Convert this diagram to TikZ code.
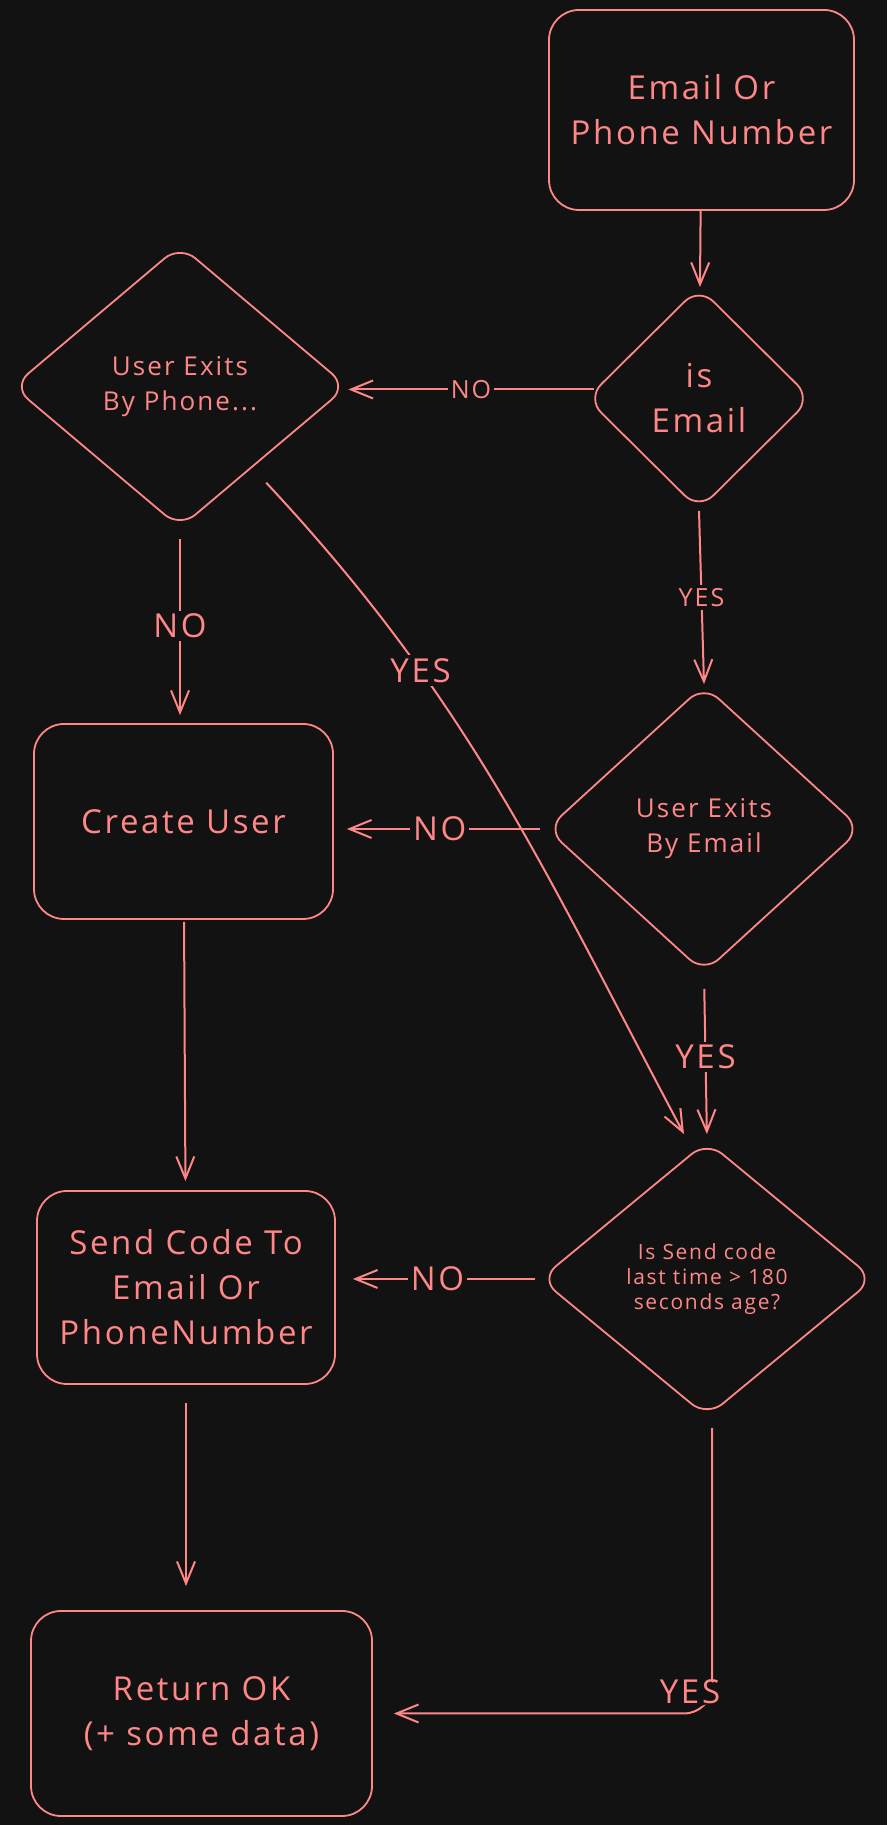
\documentclass[tikz,border=0pt]{standalone}
\usepackage{fontspec}
\setmainfont[LetterSpace=8]{Open Sans}
\usetikzlibrary{shapes.geometric,arrows.meta,calc}
\definecolor{bgdark}{HTML}{121212}
\definecolor{pen}{HTML}{FF8787}
\tikzset {>={Straight Barb[length=22pt,width=18pt]}}
\newcommand\bigtext{\fontsize{33}{45}\selectfont}
\newcommand\midtext{\fontsize{26}{35}\selectfont}
\newcommand\smalltext{\fontsize{21}{25}\selectfont}
\newcommand\labeltext{\fontsize{25}{30}\selectfont}
\tikzset{
  stepbox/.style={draw=pen,line width=1.8pt,rounded corners=30pt,inner sep=0pt,align=center,text=pen},
  decision/.style={diamond,draw=pen,line width=1.8pt,rounded corners=20pt,inner sep=0pt,align=center,text=pen},
  flow/.style={->,draw=pen,line width=2pt},
  lbl/.style={fill=bgdark,text=pen,inner sep=3pt,font=\labeltext},
  biglbl/.style={lbl,font=\bigtext}
}

\begin{document}
\begin{tikzpicture}[x=1pt,y=1pt]
\fill[bgdark] (0,0) rectangle (887,1825);
\useasboundingbox (0,0) rectangle (887,1825);

% boxes
\node[stepbox,minimum width=305pt,minimum height=200pt,font=\bigtext] (input) at (701.5,1715) {Email Or\\Phone Number};
\node[stepbox,minimum width=299pt,minimum height=195pt,font=\bigtext] (create) at (183.5,1003.5) {Create User};
\node[stepbox,minimum width=298pt,minimum height=193pt,font=\bigtext] (sendcode) at (186,537.5) {Send Code To\\Email Or\\PhoneNumber};
\node[stepbox,minimum width=341pt,minimum height=205pt,font=\bigtext] (return) at (201.5,111.5) {Return OK\\(+ some data)};

% decisions
\node[decision,minimum width=225pt,minimum height=223pt,font=\bigtext] (isEmail) at (699,1426.5) {is\\Email};
\node[decision,minimum width=335pt,minimum height=283pt,font=\midtext] (phone) at (180,1438.5) {User Exits\\By Phone...};
\node[decision,minimum width=315pt,minimum height=288pt,font=\midtext] (email) at (704,996) {User Exits\\By Email};
\node[decision,minimum width=334pt,minimum height=276pt,font=\smalltext] (send) at (707,546) {Is Send code\\last time > 180\\seconds age?};

% connectors
\draw[flow] (input) -- (isEmail);
\draw[flow] ($(isEmail.west)+(8,9)$) -- node[lbl]{NO} ($(phone.east |- isEmail.west)+(0,9)$);
\draw[flow] (isEmail.south) -- node[lbl]{YES} (email.north);
\draw[flow,shorten <=10pt,shorten >=8pt] (phone.south) -- node[biglbl]{NO} (phone.south |- create.north);
\draw[flow] ($(phone.south east)+(2,-25)$) to[out=-47,in=118] node[pos=0.3,biglbl]{YES} ($(send.north)+(-23,6)$);
\draw[flow,shorten <=6pt,shorten >=13pt] (email.west) -- node[biglbl]{NO} (email.west -| create.east);
\draw[flow,shorten <=15pt,shorten >=6pt] (email.south) -- node[biglbl]{YES} (send.north);
\draw[flow,shorten <=4pt,shorten >=17pt] (send.west) -- node[biglbl]{NO} (send.west -| sendcode.east);
\draw[flow,shorten <=2pt,shorten >=9pt] (create) -- (sendcode);
\draw[flow,shorten <=18pt,shorten >=24pt] (sendcode.south) -- (sendcode.south |- return.north);
\draw[flow,rounded corners=28pt,shorten <=10pt,shorten >=21pt] ([xshift=5pt]send.south) |- node[pos=0.5,xshift=-22pt,yshift=22pt,biglbl]{YES} (return.east);
\end{tikzpicture}
\end{document}
